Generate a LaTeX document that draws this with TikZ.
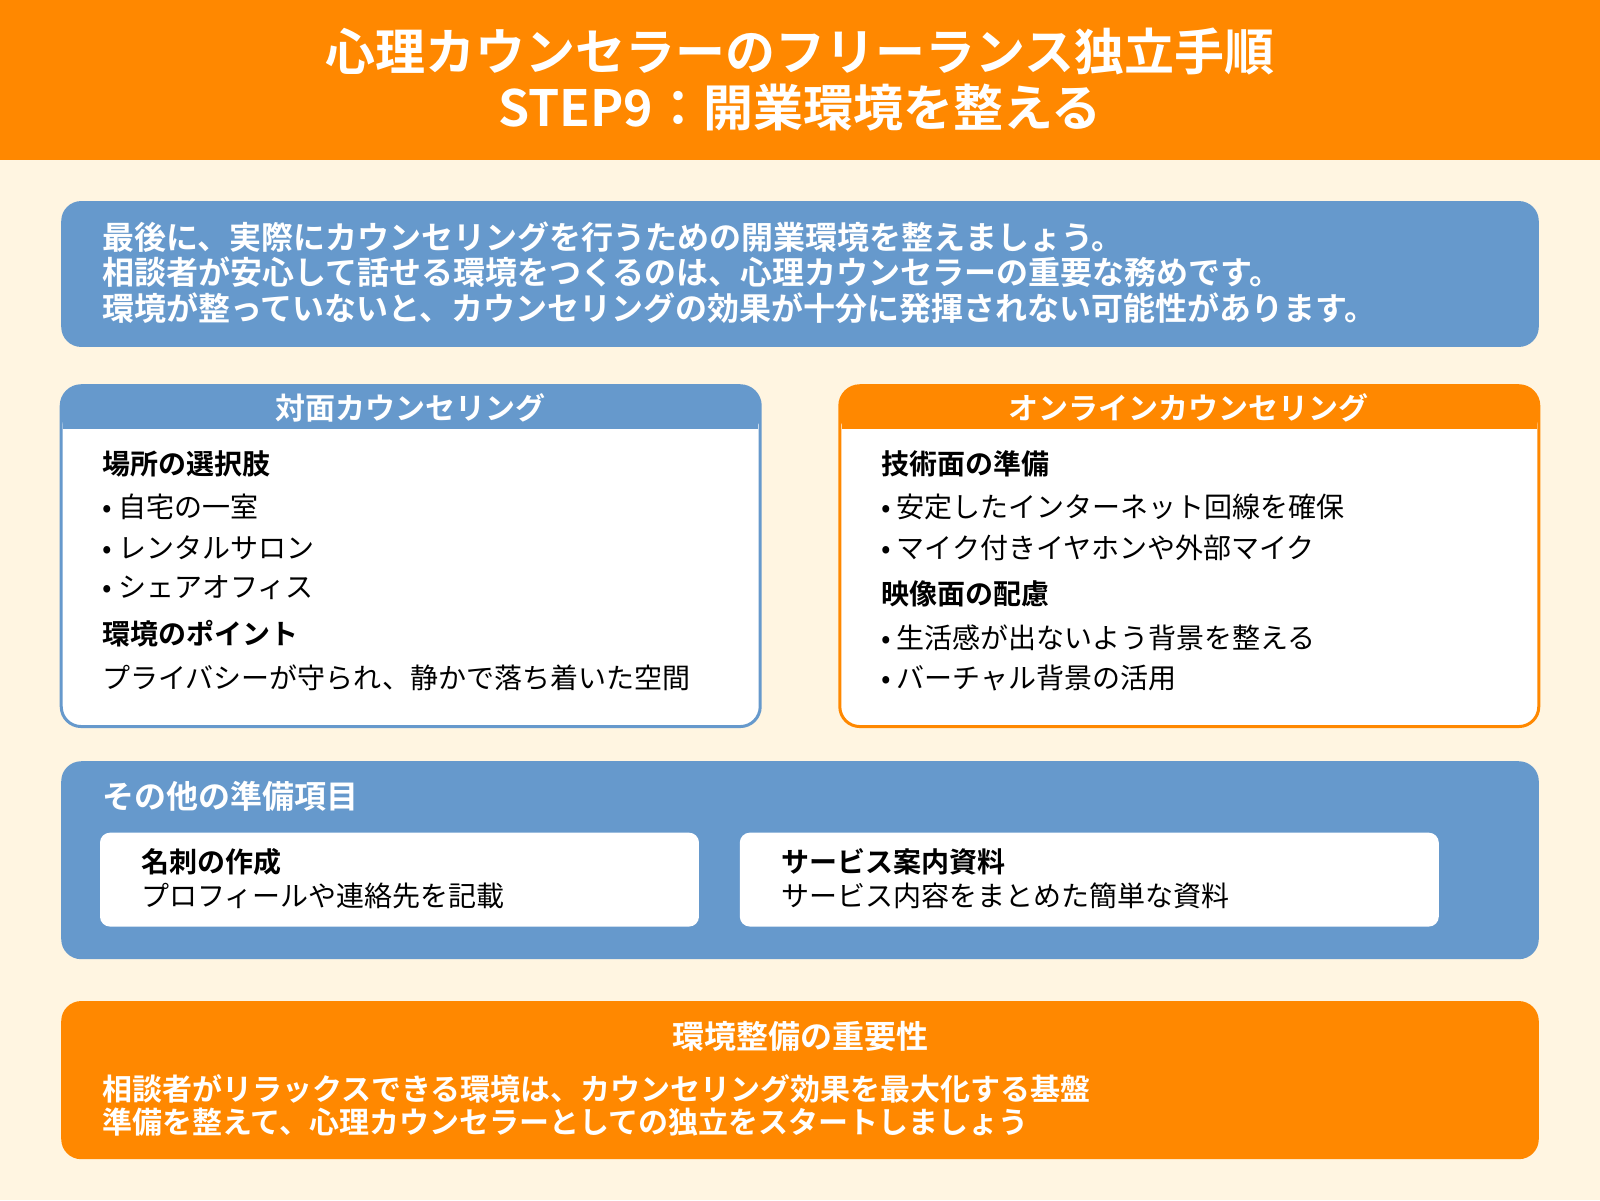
\documentclass[tikz,border=0pt]{standalone}
\usepackage{fontspec}
\setmainfont{Noto Sans CJK JP}[BoldFont={Noto Sans CJK JP Bold}]
\usepackage{xcolor}
\definecolor{orangeMain}{HTML}{FF8800}
\definecolor{blueMain}{HTML}{6699CC}
\definecolor{creamBg}{HTML}{FFF5E1}

\tikzset{
  txt/.style = {anchor=west, inner sep=0pt, font=\fontsize{14}{16}\selectfont},
  bold txt/.style = {txt, font=\fontsize{14}{16}\selectfont\bfseries},
  white txt/.style = {anchor=west, inner sep=0pt, text=white, font=\fontsize{16}{18}\selectfont\bfseries},
  low txt/.style = {white txt, font=\fontsize{15}{17}\selectfont\bfseries},
  head txt/.style = {inner sep=0pt, text=white, font=\fontsize{15}{17}\selectfont\bfseries},
}

\begin{document}
\begin{tikzpicture}[x=0.5102pt, y=-0.5102pt]
	%\draw[help lines] (0,0) grid (1568,1176);
	\useasboundingbox (0,0) rectangle (1568,1176);
	\fill[creamBg] (0,0) rectangle (1568,1176);
	
	% header
	\fill[orangeMain] (0,0) rectangle (1568,157);
	\node[text=white, font=\fontsize{25}{29}\selectfont\bfseries] (title1) at (784,50) {心理カウンセラーのフリーランス独立手順};
	\node[text=white, font=\fontsize{25}{29}\selectfont\bfseries] (title2) at (784,105) {STEP9：開業環境を整える};
	
	% intro
	\fill[blueMain, rounded corners=10pt] (60,197) rectangle (1508,340);
	\node[white txt] (intro1) at (100,232) {最後に、実際にカウンセリングを行うための開業環境を整えましょう。};
	\node[white txt] (intro2) at (100,267) {相談者が安心して話せる環境をつくるのは、心理カウンセラーの重要な務めです。};
	\node[white txt] (intro3) at (100,302) {環境が整っていないと、カウンセリングの効果が十分に発揮されない可能性があります。};
	
	% left card
	\draw[blueMain, line width=1.5pt, fill=white, rounded corners=10pt] (60,378) rectangle (745,712);
	\fill[blueMain, rounded corners=10pt] (60,378) rectangle (745,427);
	\fill[white] (62,420) rectangle (743,427);
	\fill[blueMain] (62,410) rectangle (743,420);
	\node[head txt] (leftHead) at (402,400) {対面カウンセリング};
	\node[bold txt] (placeHead) at (100,455) {場所の選択肢};
	\node[txt] (place1) at (100,497) {• 自宅の一室};
	\node[txt] (place2) at (100,537) {• レンタルサロン};
	\node[txt] (place3) at (100,576) {• シェアオフィス};
	\node[bold txt] (pointHead) at (100,621) {環境のポイント};
	\node[txt] (point1) at (100,664) {プライバシーが守られ、静かで落ち着いた空間};
	
	% right card
	\draw[orangeMain, line width=1.5pt, fill=white, rounded corners=10pt] (823,378) rectangle (1508,712);
	\fill[orangeMain, rounded corners=10pt] (823,378) rectangle (1508,427);
	\fill[white] (825,420) rectangle (1506,427);
	\fill[orangeMain] (825,410) rectangle (1506,420);
	\node[head txt] (rightHead) at (1165,400) {オンラインカウンセリング};
	\node[bold txt] (techHead) at (863,455) {技術面の準備};
	\node[txt] (tech1) at (863,497) {• 安定したインターネット回線を確保};
	\node[txt] (tech2) at (863,537) {• マイク付きイヤホンや外部マイク};
	\node[bold txt] (videoHead) at (863,582) {映像面の配慮};
	\node[txt] (video1) at (863,625) {• 生活感が出ないよう背景を整える};
	\node[txt] (video2) at (863,664) {• バーチャル背景の活用};
	
	% other items
	\fill[blueMain, rounded corners=10pt] (60,746) rectangle (1508,940);
	\node[white txt] (otherHead) at (100,780) {その他の準備項目};
	\fill[white, rounded corners=5pt] (98,816) rectangle (685,908);
	\fill[white, rounded corners=5pt] (725,816) rectangle (1410,908);
	\node[bold txt] (cardHead) at (138,845) {名刺の作成};
	\node[txt] (cardText) at (138,878) {プロフィールや連絡先を記載};
	\node[bold txt] (docHead) at (765,845) {サービス案内資料};
	\node[txt] (docText) at (765,878) {サービス内容をまとめた簡単な資料};
	
	% importance
	\fill[orangeMain, rounded corners=10pt] (60,981) rectangle (1508,1136);
	\node[head txt, font=\fontsize{16}{18}\selectfont\bfseries] (impHead) at (784,1016) {環境整備の重要性};
	\node[low txt] (imp1) at (100,1067) {相談者がリラックスできる環境は、カウンセリング効果を最大化する基盤};
	\node[low txt] (imp2) at (100,1100) {準備を整えて、心理カウンセラーとしての独立をスタートしましょう};
\end{tikzpicture}
\end{document}
